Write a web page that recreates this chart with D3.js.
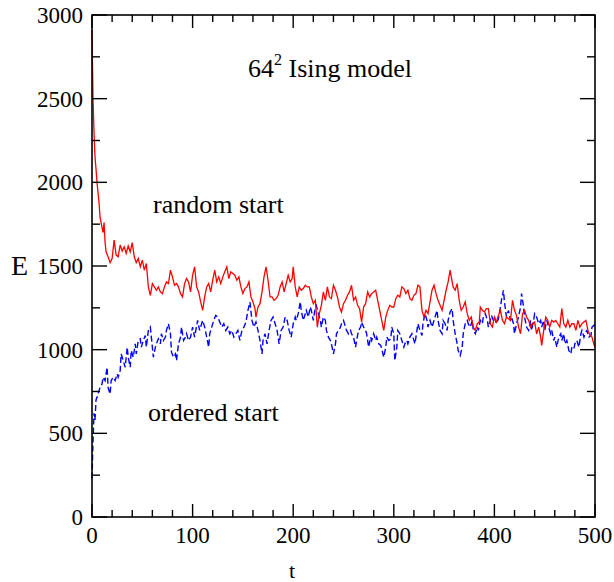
<!DOCTYPE html>
<html>
<head>
<meta charset="utf-8">
<script src="https://cdn.jsdelivr.net/npm/d3@7"></script>
<style>
  html, body { margin: 0; padding: 0; background: #fff; }
  svg { display: block; }
  text { font-family: "Liberation Serif", "DejaVu Serif", serif; fill: #000; }
</style>
</head>
<body>
<svg id="chart" width="614" height="582"></svg>
<script>
// ---------- data ----------
const tRandom = [0,1,2,3,4,5,6,7,8,9,10,11,12,13,14,16,18,20,22,24,26,28,30,32,34,36,38,40,42,44,46,48,50,52,54,56,58,60,62,64,66,68,70,72,74,76,78,80,82,84,86,88,90,92,94,96,98,100,102,104,106,108,110,112,114,116,118,120,122,124,126,128,130,132,134,136,138,140,142,144,146,148,150,152,154,156,158,160,162,163,165,167,169,171,173,175,177,179,181,183,185,187,189,191,193,195,197,199,200,202,204,206,208,210,212,214,216,218,220,222,224,226,228,230,232,234,236,238,240,242,244,246,248,250,252,254,256,258,260,262,264,266,268,270,272,274,276,278,280,282,284,286,288,290,292,294,296,298,300,302,304,306,308,310,312,314,316,318,320,322,324,326,328,330,332,334,336,338,340,342,344,346,348,350,352,354,356,357,359,361,363,365,367,369,371,373,375,377,379,381,383,385,386,388,390,392,394,396,398,400,402,404,406,408,410,412,414,416,418,420,422,424,426,428,430,432,434,436,438,440,442,444,446,447,449,451,453,455,457,459,461,463,465,467,469,471,473,475,477,479,481,483,485,487,489,491,493,495,497,499,500];
const eRandom = [2910,2500,2300,2150,2080,2000,1935,1880,1790,1760,1730,1700,1760,1640,1585,1555,1520,1545,1655,1565,1555,1625,1590,1615,1575,1620,1585,1640,1555,1520,1545,1495,1535,1475,1515,1375,1325,1395,1375,1355,1375,1345,1335,1375,1405,1395,1475,1435,1385,1395,1375,1335,1315,1395,1425,1405,1345,1445,1495,1375,1345,1285,1235,1315,1375,1395,1345,1415,1475,1405,1435,1395,1435,1465,1495,1425,1465,1455,1445,1415,1435,1375,1335,1365,1375,1405,1315,1285,1245,1195,1255,1275,1345,1435,1495,1415,1315,1315,1295,1305,1325,1375,1405,1345,1395,1445,1405,1425,1495,1375,1315,1375,1355,1365,1385,1375,1375,1315,1275,1295,1135,1215,1265,1345,1295,1375,1315,1305,1385,1355,1315,1255,1225,1275,1295,1325,1345,1385,1295,1315,1265,1245,1165,1255,1275,1345,1315,1335,1345,1355,1295,1235,1175,1115,1195,1235,1265,1255,1255,1305,1325,1315,1375,1365,1335,1355,1305,1295,1325,1335,1385,1375,1235,1195,1235,1215,1285,1355,1385,1335,1295,1265,1235,1295,1355,1405,1475,1440,1375,1355,1395,1295,1235,1255,1285,1215,1175,1195,1135,1115,1155,1165,1255,1235,1225,1245,1245,1155,1135,1195,1165,1205,1235,1175,1155,1195,1185,1175,1295,1235,1205,1135,1095,1215,1235,1195,1175,1135,1155,1165,1095,1135,1075,1025,1115,1195,1175,1135,1175,1165,1175,1155,1135,1245,1155,1135,1175,1135,1155,1155,1115,1175,1135,1155,1165,1175,1115,1085,1075,1030,1020];

const tOrdered = [0,1,2,3,4,5,6,8,10,11,13,15,16,18,19,21,23,25,26,28,29,31,33,35,36,38,39,41,43,44,46,48,49,51,53,54,56,58,59,61,63,64,66,68,69,71,73,74,76,78,79,81,83,84,86,88,89,91,93,94,96,98,100,102,105,107,110,112,114,116,117,119,121,123,125,127,129,131,133,135,137,139,141,143,145,147,149,151,153,155,157,159,161,163,165,167,169,170,172,174,176,178,180,182,184,186,188,190,192,194,196,198,200,202,203,205,207,208,210,212,213,215,217,218,220,222,223,225,227,228,230,232,233,235,237,238,240,242,243,245,247,248,250,252,253,255,257,258,260,262,263,265,267,268,270,272,273,275,277,278,280,282,283,285,287,288,290,292,293,295,297,298,300,301,303,304,306,308,310,311,313,314,316,318,319,321,323,324,326,328,329,331,333,334,336,338,339,341,343,344,346,348,349,351,353,354,356,358,359,361,363,364,366,368,369,371,373,374,376,378,379,381,383,384,386,388,389,391,393,394,396,397,399,400,402,404,406,407,409,410,412,414,416,417,419,420,422,424,426,427,429,430,432,434,436,437,439,440,442,444,446,447,449,450,452,454,456,457,459,460,462,464,466,467,469,470,472,474,476,477,479,480,482,484,486,487,489,490,492,494,496,497,499,500];
const eOrdered = [230,450,620,580,700,715,735,775,795,835,815,895,775,735,815,835,815,855,835,875,975,935,895,1015,955,895,995,955,1035,975,1055,1065,1015,1055,1085,1015,1115,1135,1075,955,1015,1035,1065,1035,1095,1055,1075,1115,1155,1095,985,955,975,935,1035,1075,1135,1055,1075,1095,1055,1075,1135,1075,1175,1115,1175,1135,1075,1015,1095,1135,1175,1205,1195,1165,1135,1155,1115,1135,1095,1115,1075,1095,1115,1055,1115,1135,1165,1235,1285,1175,1135,1165,1115,1055,975,1055,1095,1035,1115,1175,1195,1155,1115,1035,1115,1135,1195,1175,1115,1075,1155,1195,1175,1215,1285,1235,1175,1215,1235,1195,1255,1235,1175,1255,1265,1215,1175,1135,1195,1175,1115,1075,1055,1035,975,1035,1095,1115,1135,1155,1175,1135,1115,1095,1115,1095,1075,1015,1055,1115,1135,1165,1135,1115,1095,1015,1075,1055,1095,1055,1075,1035,1025,1005,955,1015,1075,1055,1065,1135,1095,935,1015,1115,1095,1055,1015,1035,1055,1035,1075,1095,1075,1035,1115,1155,1115,1085,1155,1215,1175,1135,1175,1135,1155,1195,1235,1175,1115,1095,1175,1155,1115,1175,1225,1245,1175,1095,1035,995,965,1015,1095,1155,1175,1155,1135,1175,1115,1095,1135,1115,1175,1155,1195,1215,1175,1135,1175,1205,1175,1195,1155,1185,1255,1295,1355,1285,1195,1235,1175,1195,1155,1095,1155,1195,1255,1335,1255,1195,1135,1115,1175,1115,1175,1215,1195,1155,1175,1135,1175,1115,1175,1135,1095,1115,1055,1075,1015,1075,1095,1055,1095,1035,1055,995,975,1015,1005,1035,1055,1015,1095,1115,1075,1095,1115,1075,1085,1135,1145,1150];

const xMajorTicks = [0,100,200,300,400,500];
const yMajorTicks = [0,500,1000,1500,2000,2500,3000];
const xLabel = "t";
const yLabel = "E";
const titleMain = "64";
const titleSup = "2";
const titleRest = " Ising model";
const noteRandom = "random start";
const noteOrdered = "ordered start";

// ---------- layout ----------
const svg = d3.select("#chart");
const L = 92, T = 15, R = 595, B = 517;

const x = d3.scaleLinear().domain([0, 500]).range([L, R]);
const y = d3.scaleLinear().domain([0, 3000]).range([B, T]);

const xMinor = d3.range(0, 501, 20).filter(v => v % 100 !== 0);
const yMinor = d3.range(0, 3001, 250).filter(v => v % 500 !== 0);

// data lines (drawn first, frame on top)
const line = d3.line().x(d => x(d[0])).y(d => y(d[1]));
const randomPts = tRandom.map((t, i) => [t, eRandom[i]]);
const orderedPts = tOrdered.map((t, i) => [t, eOrdered[i]]);

svg.append("path").datum(orderedPts)
  .attr("d", line).attr("fill", "none")
  .attr("stroke", "#0000ff").attr("stroke-width", 1.4)
  .attr("stroke-dasharray", "6,3");

svg.append("path").datum(randomPts)
  .attr("d", line).attr("fill", "none")
  .attr("stroke", "#ff0000").attr("stroke-width", 1.3);

// ticks, all pointing inward
const tk = svg.append("g").attr("stroke", "#000").attr("stroke-width", 1.4);
function xt(vals, len) {
  vals.forEach(v => {
    tk.append("line").attr("x1", x(v)).attr("x2", x(v)).attr("y1", B).attr("y2", B - len);
    tk.append("line").attr("x1", x(v)).attr("x2", x(v)).attr("y1", T).attr("y2", T + len);
  });
}
function yt(vals, len) {
  vals.forEach(v => {
    tk.append("line").attr("y1", y(v)).attr("y2", y(v)).attr("x1", L).attr("x2", L + len);
    tk.append("line").attr("y1", y(v)).attr("y2", y(v)).attr("x1", R).attr("x2", R - len);
  });
}
xt(xMajorTicks, 13); xt(xMinor, 7);
yt(yMajorTicks, 15); yt(yMinor, 8);

// frame
svg.append("rect").attr("x", L).attr("y", T).attr("width", R - L).attr("height", B - T)
  .attr("fill", "none").attr("stroke", "#000").attr("stroke-width", 1.6);

// tick labels
svg.append("g").selectAll("text").data(xMajorTicks).join("text")
  .attr("x", d => x(d)).attr("y", 543).attr("text-anchor", "middle")
  .attr("font-size", 23).text(d => d);
svg.append("g").selectAll("text").data(yMajorTicks).join("text")
  .attr("x", 83).attr("y", d => y(d) + 8).attr("text-anchor", "end")
  .attr("font-size", 23).text(d => d);

// axis labels
svg.append("text").attr("x", 292).attr("y", 578).attr("text-anchor", "middle")
  .attr("font-size", 22).text(xLabel);
svg.append("text").attr("x", 11).attr("y", 275).attr("font-size", 28).text(yLabel);

// annotations
const tt = svg.append("text").attr("x", 248).attr("y", 77).attr("font-size", 26);
tt.append("tspan").text(titleMain);
tt.append("tspan").attr("dy", -12).attr("font-size", 16).text(titleSup);
tt.append("tspan").attr("dy", 12).text(titleRest);

svg.append("text").attr("x", 153).attr("y", 213).attr("font-size", 26).text(noteRandom);
svg.append("text").attr("x", 148).attr("y", 421).attr("font-size", 26).text(noteOrdered);
</script>
</body>
</html>
